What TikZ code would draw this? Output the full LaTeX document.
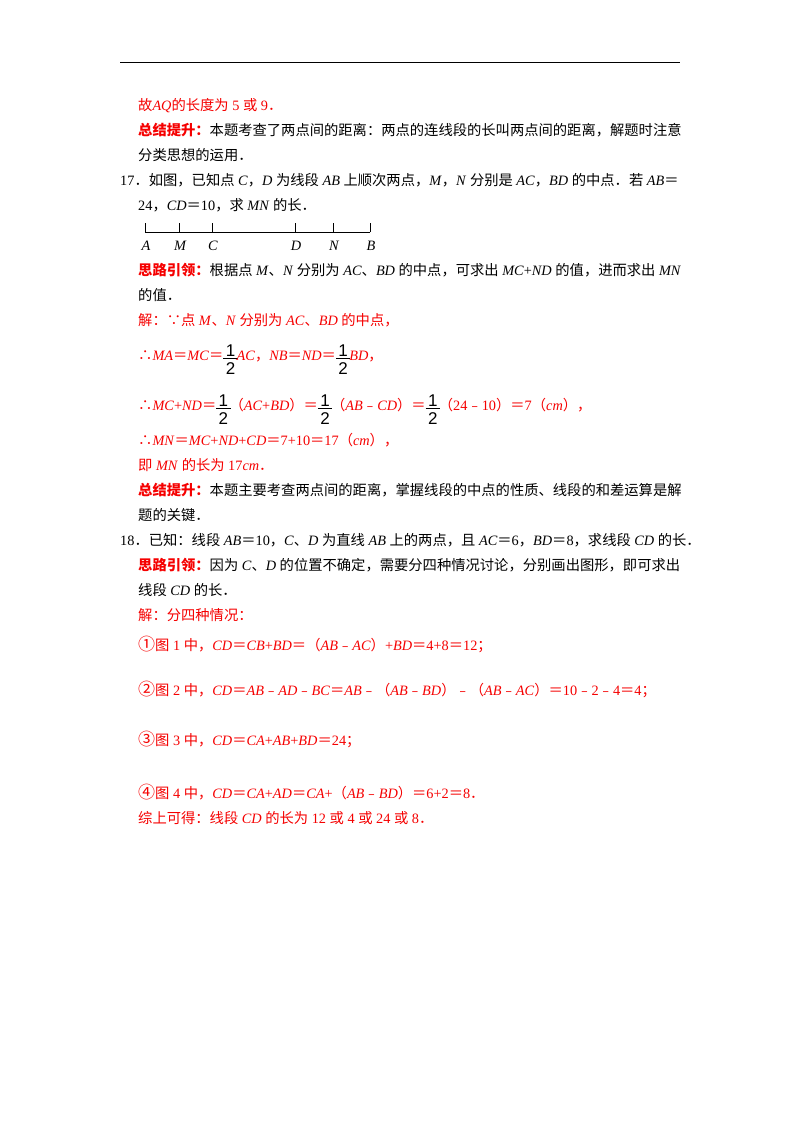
\documentclass[tikz,border=0pt]{standalone}
\usepackage{fontspec}
\usepackage{amsmath}
\setmainfont{Liberation Serif}
\newfontfamily\cjk{Noto Sans CJK SC}
\newfontfamily\fracfont{Liberation Sans}
\XeTeXinterchartokenstate=1
\newXeTeXintercharclass\cjkclass
\makeatletter
\def\setcjkrange#1#2{\count@=#1\relax\loop\XeTeXcharclass\count@=\cjkclass\relax\ifnum\count@<#2\advance\count@ 1\relax\repeat}
\makeatother
\setcjkrange{"4E00}{"9FFF}
\setcjkrange{"3000}{"303F}
\setcjkrange{"FF00}{"FFEF}
\setcjkrange{"FE30}{"FE6F}
\setcjkrange{"2460}{"2473}
\XeTeXcharclass"2234=\cjkclass
\XeTeXcharclass"2235=\cjkclass
\XeTeXinterchartoks 0 \cjkclass = {\cjk}
\XeTeXinterchartoks 4095 \cjkclass = {\cjk}
\XeTeXinterchartoks \cjkclass 0 = {\rmfamily}
\XeTeXinterchartoks \cjkclass 4095 = {\rmfamily}
\definecolor{rd}{RGB}{245,0,0}
\newcommand\iv[1]{\textit{#1}}
\newcommand\hd[1]{{\bfseries\color{rd}#1}}
\newcommand\hf{{\color{black}\raisebox{\dimexpr-0.5\height+5pt\relax}{\begin{tabular}{@{\,}c@{\,}}\fracfont\upshape\fontsize{17}{17}\selectfont 1\\[-3pt]\hline\rule{0pt}{16pt}\fracfont\upshape\fontsize{17}{17}\selectfont 2\end{tabular}}}\hspace{-1pt}}
\begin{document}
\begin{tikzpicture}[x=1pt,y=-1pt,
  tx/.style={anchor=base west,inner sep=0pt,font=\fontsize{14.3}{17}\selectfont},
  rt/.style={tx,text=rd}]
\useasboundingbox (0,0) rectangle (800,1132);
\draw[line width=1pt] (120,63) -- (680,63);
\node[rt] (l1) at (138,110) {故\iv{AQ}的长度为 5 或 9．};
\node[tx] (l2) at (138,135) {\hd{总结提升：}本题考查了两点间的距离：两点的连线段的长叫两点间的距离，解题时注意};
\node[tx] (l3) at (138,160) {分类思想的运用．};
\node[tx] (l4) at (120,185) {17．如图，已知点 \iv{C}，\iv{D} 为线段 \iv{AB} 上顺次两点，\iv{M}，\iv{N} 分别是 \iv{AC}，\iv{BD} 的中点．若 \iv{AB}＝};
\node[tx] (l5) at (138,210) {24，\iv{CD}＝10，求 \iv{MN} 的长．};
\coordinate (pA) at (145,232); \coordinate (pB) at (370,232);
\draw[line width=0.8pt] (pA) -- (pB);
\foreach \x/\l/\n in {145/A/a,179/M/m,212/C/c,295/D/d,333/N/n,370/B/b}{
  \draw[line width=0.8pt] (\x,232) -- (\x,223);
  \node[font=\fontsize{14.3}{17}\selectfont\itshape,inner sep=0pt] (t\n) at (\x+1,246) {\l};
}
\node[tx] (l6) at (138,275) {\hd{思路引领：}根据点 \iv{M}、\iv{N} 分别为 \iv{AC}、\iv{BD} 的中点，可求出 \iv{MC}+\iv{ND} 的值，进而求出 \iv{MN}};
\node[tx] (l7) at (138,300) {的值．};
\node[rt] (l8) at (138,325) {解：∵点 \iv{M}、\iv{N} 分别为 \iv{AC}、\iv{BD} 的中点，};
\node[rt] (l9) at (138,360) {∴\iv{MA}＝\iv{MC}＝\hf\iv{AC}，\iv{NB}＝\iv{ND}＝\hf\iv{BD}，};
\node[rt] (l10) at (138,410) {∴\iv{MC}+\iv{ND}＝\hf（\iv{AC}+\iv{BD}）＝\hf（\iv{AB}﹣\iv{CD}）＝\hf（24﹣10）＝7（\iv{cm}），};
\node[rt] (l11) at (138,445) {∴\iv{MN}＝\iv{MC}+\iv{ND}+\iv{CD}＝7+10＝17（\iv{cm}），};
\node[rt] (l12) at (138,470) {即 \iv{MN} 的长为 17\iv{cm}．};
\node[tx] (l13) at (138,495) {\hd{总结提升：}本题主要考查两点间的距离，掌握线段的中点的性质、线段的和差运算是解};
\node[tx] (l14) at (138,520) {题的关键．};
\node[tx] (l15) at (120,545) {18．已知：线段 \iv{AB}＝10，\iv{C}、\iv{D} 为直线 \iv{AB} 上的两点，且 \iv{AC}＝6，\iv{BD}＝8，求线段 \iv{CD} 的长．};
\node[tx] (l16) at (138,570) {\hd{思路引领：}因为 \iv{C}、\iv{D} 的位置不确定，需要分四种情况讨论，分别画出图形，即可求出};
\node[tx] (l17) at (138,595) {线段 \iv{CD} 的长．};
\node[rt] (l18) at (138,620) {解：分四种情况：};
\node[rt] (l19) at (138,650) {{\fontsize{17}{17}\selectfont ①}图 1 中，\iv{CD}＝\iv{CB}+\iv{BD}＝（\iv{AB}﹣\iv{AC}）+\iv{BD}＝4+8＝12；};
\node[rt] (l20) at (138,695) {{\fontsize{17}{17}\selectfont ②}图 2 中，\iv{CD}＝\iv{AB}﹣\iv{AD}﹣\iv{BC}＝\iv{AB}﹣（\iv{AB}﹣\iv{BD}）﹣（\iv{AB}﹣\iv{AC}）＝10﹣2﹣4＝4；};
\node[rt] (l21) at (138,745) {{\fontsize{17}{17}\selectfont ③}图 3 中，\iv{CD}＝\iv{CA}+\iv{AB}+\iv{BD}＝24；};
\node[rt] (l22) at (138,798) {{\fontsize{17}{17}\selectfont ④}图 4 中，\iv{CD}＝\iv{CA}+\iv{AD}＝\iv{CA}+（\iv{AB}﹣\iv{BD}）＝6+2＝8．};
\node[rt] (l23) at (138,823) {综上可得：线段 \iv{CD} 的长为 12 或 4 或 24 或 8．};
\end{tikzpicture}
\end{document}
